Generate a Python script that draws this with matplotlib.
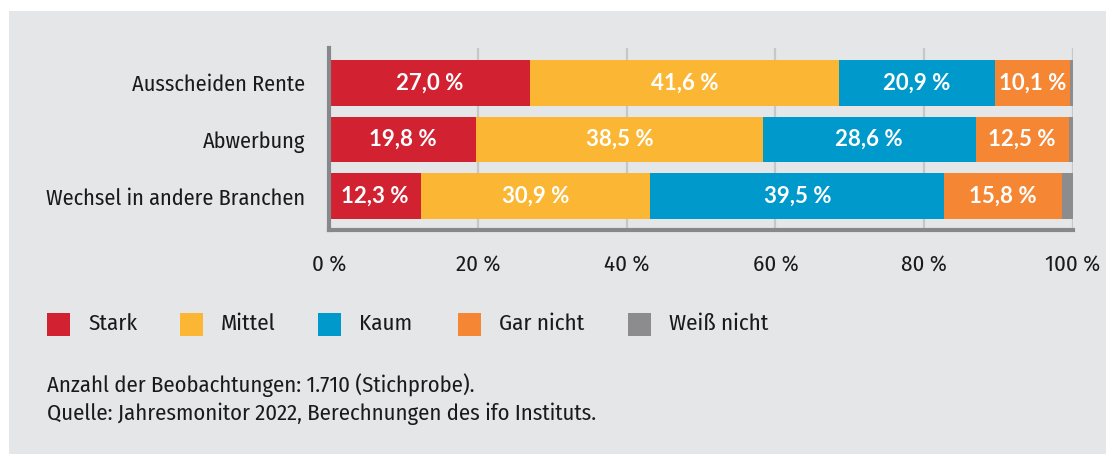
import matplotlib
matplotlib.use("Agg")
import matplotlib.pyplot as plt
from matplotlib.patches import Rectangle

plt.rcParams['font.family'] = ['Fira Sans Condensed', 'PT Sans Narrow', 'Asap Condensed',
                               'Archivo Narrow', 'DejaVu Sans']
label_family = ['Lato', 'Roboto', 'DejaVu Sans']

# data
categories = ["Ausscheiden Rente", "Abwerbung", "Wechsel in andere Branchen"]
series_names = ["Stark", "Mittel", "Kaum", "Gar nicht", "Weiß nicht"]
stark = [27.0, 19.8, 12.3]
mittel = [41.6, 38.5, 30.9]
kaum = [20.9, 28.6, 39.5]
gar_nicht = [10.1, 12.5, 15.8]
weiss_nicht = [0.4, 0.6, 1.5]
x_ticks = [0, 20, 40, 60, 80, 100]
note_lines = ["Anzahl der Beobachtungen: 1.710 (Stichprobe).",
              "Quelle: Jahresmonitor 2022, Berechnungen des ifo Instituts."]

colors = ["#d22232", "#fbb733", "#0099cc", "#f58634", "#8c8c8f"]
panel_bg = "#e5e6e8"

W, H = 1106, 454
fig = plt.figure(figsize=(W / 100, H / 100), dpi=100)
fig.patch.set_facecolor("white")
fig.patches.append(Rectangle((9 / W, 0), 1 - 9 / W, 1 - 11 / H,
                             transform=fig.transFigure, facecolor=panel_bg,
                             edgecolor="none", zorder=-10))

ax = fig.add_axes([329 / W, 1 - 230 / H, (1073 - 329) / W, (230 - 48) / H])
ax.set_facecolor(panel_bg)

series = [stark, mittel, kaum, gar_nicht, weiss_nicht]
ypos = list(range(len(categories)))
left = [0.0] * len(categories)
for name, vals, col in zip(series_names, series, colors):
    bars = ax.barh(ypos, vals, left=left, height=0.81, color=col, label=name, zorder=2)
    if name != "Weiß nicht":
        for b, v in zip(bars, vals):
            ax.text(b.get_x() + b.get_width() / 2, b.get_y() + b.get_height() / 2,
                    f"{v:.1f} %".replace(".", ","), ha="center", va="center",
                    color="white", fontsize=16, fontweight="bold",
                    family=label_family, zorder=3)
    left = [l + v for l, v in zip(left, vals)]

ax.set_xlim(0, 100)
ax.set_ylim(2.6, -0.62)
ax.set_yticks(ypos)
ax.set_yticklabels(categories, fontsize=16, color="#1a1a1a")
ax.set_xticks(x_ticks)
ax.set_xticklabels([f"{t} %" for t in x_ticks], fontsize=16.5, color="#1a1a1a")
ax.tick_params(axis="both", length=0)
ax.tick_params(axis="y", pad=17)
ax.tick_params(axis="x", pad=17)
ax.grid(axis="x", color="#c6c7c9", linewidth=1.6, zorder=1)
ax.set_axisbelow(True)
for s in ["top", "right"]:
    ax.spines[s].set_visible(False)
for s in ["left", "bottom"]:
    ax.spines[s].set_color("#87888b")
    ax.spines[s].set_linewidth(3)
    ax.spines[s].set_zorder(4)

# legend
leg_x = [47, 180, 318, 458, 628]
for x, name, col in zip(leg_x, series_names, colors):
    fig.patches.append(Rectangle((x / W, 1 - 336 / H), 23 / W, 23 / H,
                                 transform=fig.transFigure, facecolor=col,
                                 edgecolor="none"))
    fig.text((x + 41) / W, 1 - 324 / H, name, fontsize=16.5, va="center",
             ha="left", color="#1a1a1a")

for i, line in enumerate(note_lines):
    fig.text(47 / W, 1 - (385 + 29 * i) / H, line, fontsize=16.3, va="center",
             ha="left", color="#1a1a1a")

fig.savefig("out.png", dpi=100, facecolor=fig.get_facecolor())
